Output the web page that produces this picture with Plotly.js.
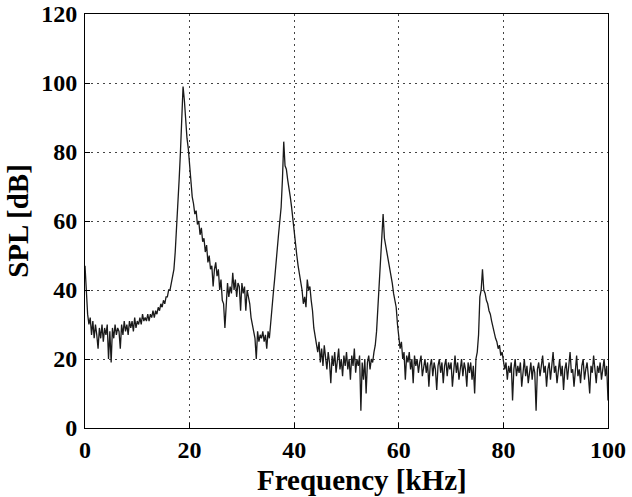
<!DOCTYPE html>
<html>
<head>
<meta charset="utf-8">
<script src="https://cdn.plot.ly/plotly-3.0.1.min.js"></script>
<style>html,body{margin:0;padding:0;background:#fff;}#chart{width:632px;height:497px;}</style>
</head>
<body>
<div id="chart"></div>
<script>
// Frequency sampling grid (kHz): 0 to 100 in 0.25 kHz bins
const freqStart = 0;
const freqStep = 0.25;

// SPL values (dB), one per frequency bin, 20 bins per row (5 kHz)
const splDb = [
  47,38,33,30,32,27,31,26,30,27,23,29,26,30,25,29,27,30,20,28,
  19,29,26,30,27,29,28,23,30,27,31,28,30,27,31,29,31,28,32,29,
  31,30,32,30,33,31,32,31,33,31,33,32,34,32,34,33,35,34,36,35,
  37,36,38,38,40,40,42,43,46,51,57,63,72,80,89,99,95,88,84,81,
  76,72,67,65,62,63,59,60,56,58,54,55,51,53,48,50,46,47,41,46,
  48,44,46,40,43,37,36,29,38,42,38,41,39,45,40,43,38,42,41,34,
  42,39,41,34,40,38,36,32,30,28,26,20,28,25,27,26,28,25,27,23,
  28,26,31,35,39,43,48,52,56,60,64,72,83,76,75,72,70,67,64,60,
  57,54,50,47,45,42,40,36,38,35,43,40,41,37,34,29,27,24,22,25,
  19,23,18,24,20,17,22,19,13,21,18,22,16,20,23,17,20,15,21,18,
  22,17,20,14,21,18,23,16,20,18,21,5,19,14,20,10,19,21,17,20,
  19,22,24,28,35,42,48,55,62,55,53,50,48,46,44,42,39,37,35,30,
  26,23,25,20,22,14,21,19,22,17,20,13,21,18,20,16,19,21,15,18,
  20,16,19,12,18,20,15,19,17,11,18,20,16,19,13,18,20,15,19,17,
  19,12,18,21,16,19,14,18,20,15,19,17,12,19,16,19,14,18,10,20,
  22,27,38,40,46,40,39,37,36,34,33,31,29,28,26,25,23,24,21,22,
  20,17,19,14,18,16,19,8,17,20,15,18,16,19,12,17,20,15,18,13,
  17,19,14,18,16,5,17,19,15,18,21,16,18,12,17,19,14,18,22,16,
  18,13,17,20,15,18,11,17,19,14,18,22,16,17,12,18,21,15,17,13,
  18,20,14,17,19,15,10,18,16,21,17,13,18,16,19,14,17,20,15,18,
  8
];

const xTickVals = [0, 20, 40, 60, 80, 100];
const yTickVals = [0, 20, 40, 60, 80, 100, 120];
const xTitle = 'Frequency [kHz]';
const yTitle = 'SPL [dB]';

const freqKHz = splDb.map((_, i) => freqStart + i * freqStep);

const fontFamily = '"Liberation Serif", "Times New Roman", serif';

const trace = {
  x: freqKHz,
  y: splDb,
  type: 'scatter',
  mode: 'lines',
  line: {color: '#1a1a1a', width: 1.3},
  hoverinfo: 'skip'
};

const axisCommon = {
  showline: true,
  linecolor: '#000',
  linewidth: 1,
  mirror: true,
  ticks: 'inside',
  ticklen: 5,
  tickcolor: '#000',
  showgrid: true,
  gridcolor: '#444',
  griddash: '2px,4px',
  gridwidth: 1,
  zeroline: false,
  tickfont: {family: fontFamily, size: 24, color: '#000', weight: 'bold'}
};

const layout = {
  width: 632,
  height: 497,
  margin: {l: 85, r: 24, t: 14, b: 69},
  paper_bgcolor: '#fff',
  plot_bgcolor: '#fff',
  showlegend: false,
  xaxis: Object.assign({}, axisCommon, {
    range: [0, 100],
    tickvals: xTickVals,
    ticktext: xTickVals.map(String),
    ticklabelstandoff: 0
  }),
  yaxis: Object.assign({}, axisCommon, {
    range: [0, 120],
    tickvals: yTickVals,
    ticktext: yTickVals.map(String),
    ticklabelstandoff: 2,
    title: {text: yTitle, font: {family: fontFamily, size: 29, color: '#000', weight: 'bold'}, standoff: 4}
  }),
  annotations: [{
    text: xTitle,
    xref: 'paper', yref: 'paper',
    x: 0.53, y: 0,
    xanchor: 'center', yanchor: 'top',
    yshift: -34,
    showarrow: false,
    font: {family: fontFamily, size: 29, color: '#000', weight: 'bold'}
  }]
};

Plotly.newPlot('chart', [trace], layout, {staticPlot: true, displayModeBar: false});
</script>
</body>
</html>
